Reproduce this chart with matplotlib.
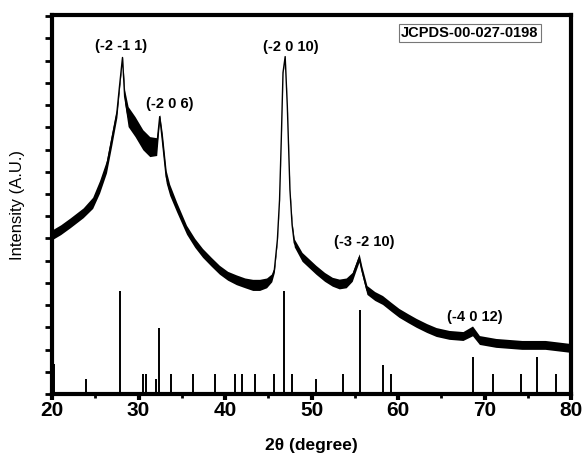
import matplotlib.pyplot as plt
import numpy as np
from matplotlib.ticker import MultipleLocator

plt.rcParams['font.family'] = ['Liberation Sans', 'DejaVu Sans']

# measured XRD pattern (2theta, intensity centre of the noisy trace, noise half-width)
two_theta = [20.0, 21.0, 22.1, 23.6, 24.7, 25.5, 26.3, 26.9, 27.5, 27.8, 28.15, 28.4,
             28.8, 29.6, 30.5, 31.3, 32.1, 32.45, 32.75, 33.2, 33.6, 34.4, 35.55, 36.5,
             37.4, 38.4, 39.35, 40.3, 41.3, 42.3, 43.2, 44.0, 44.8, 45.4, 45.7, 46.05,
             46.3, 46.5, 46.7, 46.95, 47.2, 47.5, 47.75, 48.0, 48.9, 50.5, 51.5, 52.4,
             53.2, 54.0, 54.7, 55.2, 55.5, 55.8, 56.4, 57.3, 58.2, 59.2, 60.1, 61.1,
             62.1, 63.3, 64.4, 65.9, 67.5, 68.6, 69.4, 71.3, 74.3, 77.0, 80.0]
intensity = [7.16, 7.39, 7.70, 8.15, 8.60, 9.32, 10.23, 11.44, 12.66, 13.83, 15.14, 13.38,
             12.48, 12.03, 11.44, 11.13, 11.13, 12.48, 11.44, 9.77, 9.19, 8.42, 7.39, 6.80,
             6.35, 5.95, 5.59, 5.32, 5.14, 5.00, 4.91, 4.91, 5.00, 5.23, 5.59, 6.94,
             8.74, 11.44, 14.46, 15.18, 12.93, 9.19, 7.61, 6.80, 6.17, 5.59, 5.27, 5.05,
             4.95, 5.00, 5.27, 5.81, 6.13, 5.59, 4.68, 4.41, 4.23, 3.92, 3.65, 3.42,
             3.20, 2.97, 2.79, 2.66, 2.61, 2.84, 2.43, 2.30, 2.21, 2.21, 2.07]
noise = [0.22, 0.22, 0.22, 0.22, 0.25, 0.28, 0.28, 0.28, 0.22, 0.12, 0.04, 0.30,
         0.45, 0.45, 0.45, 0.45, 0.40, 0.10, 0.30, 0.28, 0.25, 0.22, 0.20, 0.20,
         0.20, 0.20, 0.20, 0.20, 0.22, 0.22, 0.25, 0.25, 0.22, 0.18, 0.12, 0.06,
         0.04, 0.04, 0.04, 0.02, 0.04, 0.06, 0.12, 0.18, 0.20, 0.20, 0.20, 0.20,
         0.22, 0.22, 0.20, 0.18, 0.18, 0.18, 0.20, 0.20, 0.20, 0.20, 0.20, 0.20,
         0.20, 0.20, 0.20, 0.20, 0.20, 0.22, 0.20, 0.20, 0.20, 0.20, 0.20]

# JCPDS-00-027-0198 reference lines
ref_pos = [20.2, 23.9, 27.9, 30.5, 30.9, 32.0, 32.4, 33.7, 36.3, 38.8, 41.2, 42.0, 43.5,
           45.7, 46.8, 47.7, 50.5, 53.6, 55.6, 58.3, 59.2, 68.6, 71.0, 74.2, 76.0, 78.2]
ref_int = [1.35, 0.68, 4.64, 0.90, 0.90, 0.68, 2.97, 0.90, 0.90, 0.90, 0.90, 0.90, 0.90,
           0.90, 4.64, 0.90, 0.68, 0.90, 3.78, 1.30, 0.90, 1.67, 0.90, 0.90, 1.67, 0.90]

# peak labels
peak_labels = ['(-2 -1 1)', '(-2 0 6)', '(-2 0 10)', '(-3 -2 10)', '(-4 0 12)']
label_x = [28.0, 33.6, 47.6, 56.1, 68.9]
label_y = [15.65, 13.05, 15.6, 6.83, 3.45]

x = np.array(two_theta)
y = np.array(intensity)
hw = np.array(noise)

fig = plt.figure(figsize=(5.84, 4.55), dpi=100)
ax = fig.add_axes([0.089, 0.134, 0.889, 0.833])

ax.fill_between(x, y - hw, y + hw, color='black', lw=0)
ax.plot(x, y, color='black', lw=1.0)
ax.vlines(ref_pos, 0, ref_int, color='black', lw=1.4)

for t, lx, ly in zip(peak_labels, label_x, label_y):
    ax.text(lx, ly, t, ha='center', va='center', fontsize=10.5, fontweight='bold')

ax.text(0.805, 0.952, 'JCPDS-00-027-0198', transform=ax.transAxes, ha='center', va='center',
        fontsize=10.5, fontweight='bold',
        bbox=dict(boxstyle='square,pad=0.15', fc='white', ec='#777777', lw=0.8))

ax.set_xlim(20, 80)
ax.set_ylim(0, 17.05)
ax.xaxis.set_major_locator(MultipleLocator(10))
ax.xaxis.set_minor_locator(MultipleLocator(5))
ax.yaxis.set_major_locator(MultipleLocator(1))
ax.set_yticklabels([])
ax.tick_params(axis='x', which='major', direction='out', length=4, width=3, pad=1,
               labelsize=15)
ax.tick_params(axis='x', which='minor', direction='out', length=3, width=2)
ax.tick_params(axis='y', which='major', direction='out', length=5, width=2)
for lab in ax.get_xticklabels():
    lab.set_fontweight('bold')

for s in ax.spines.values():
    s.set_linewidth(3)

ax.set_xlabel('2θ (degree)', fontsize=12.5, fontweight='bold', labelpad=13)
ax.set_ylabel('Intensity (A.U.)', fontsize=12, labelpad=11)

fig.savefig('out.png', dpi=100)
